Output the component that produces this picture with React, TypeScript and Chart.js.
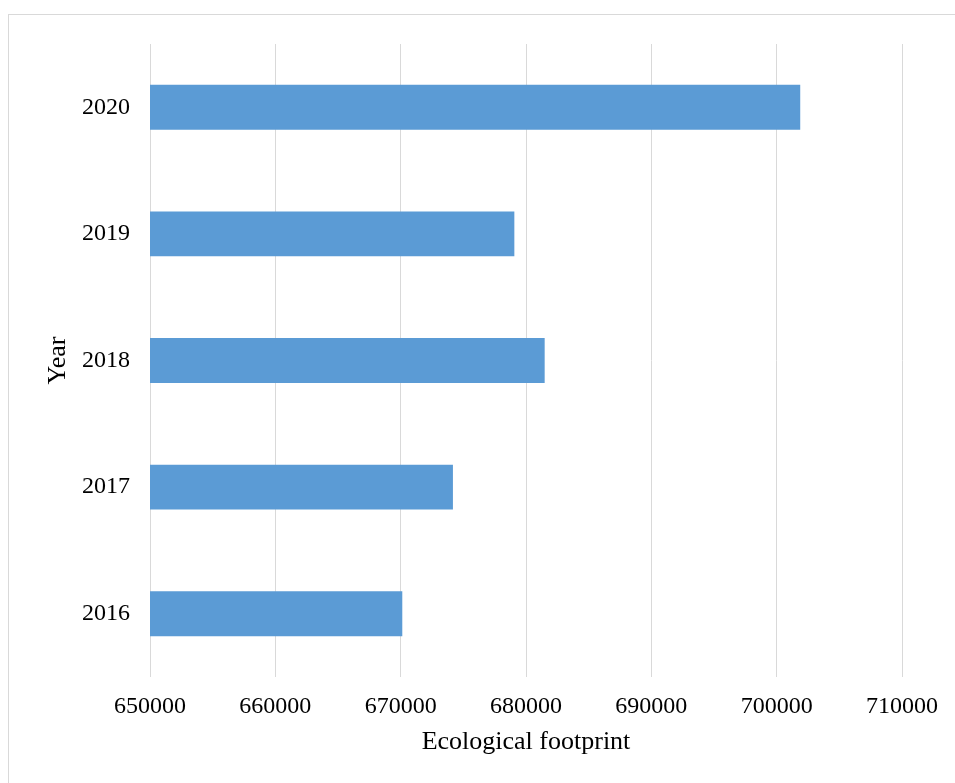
import React, { useEffect, useRef } from "react";
import { Chart, registerables } from "chart.js";

Chart.register(...registerables);

const years: string[] = ["2016", "2017", "2018", "2019", "2020"];
const footprint: number[] = [670130, 674170, 681490, 679070, 701880];
const xMin = 650000;
const xMax = 710000;
const xStep = 10000;

const FONT = "'Liberation Serif', 'Times New Roman', serif";

export default function App() {
  const ref = useRef<HTMLCanvasElement | null>(null);

  useEffect(() => {
    if (!ref.current) return;
    const chart = new Chart(ref.current, {
      type: "bar",
      data: {
        labels: years,
        datasets: [
          {
            label: "Ecological footprint",
            data: footprint,
            backgroundColor: "#5b9bd5",
            borderWidth: 0,
            barPercentage: 0.355,
            categoryPercentage: 1,
          },
        ],
      },
      options: {
        indexAxis: "y",
        responsive: false,
        animation: false,
        layout: { padding: { left: 0, top: 44, right: 53, bottom: 0 } },
        plugins: {
          legend: { display: false },
          tooltip: { enabled: false },
        },
        scales: {
          x: {
            min: xMin,
            max: xMax,
            grid: { color: "#d9d9d9", lineWidth: 1, drawTicks: false },
            border: { display: false },
            ticks: {
              stepSize: xStep,
              padding: 15,
              color: "#000",
              font: { family: FONT, size: 24 },
              callback: (v: any) => String(v),
              maxRotation: 0,
            },
            title: {
              display: true,
              text: "Ecological footprint",
              color: "#000",
              font: { family: FONT, size: 26 },
              padding: { top: 0, bottom: 25 },
            },
            afterFit: (s: any) => {
              s.height = 106;
            },
          },
          y: {
            reverse: true,
            grid: { display: false, drawTicks: false },
            border: { display: false },
            ticks: {
              padding: 20,
              color: "#000",
              font: { family: FONT, size: 24 },
            },
            title: {
              display: true,
              text: "Year",
              color: "#000",
              font: { family: FONT, size: 26 },
              padding: { top: 43, bottom: 0 },
            },
            afterFit: (s: any) => {
              s.width = 150;
            },
          },
        },
      },
    });
    return () => chart.destroy();
  }, []);

  return (
    <div
      style={{
        position: "fixed",
        left: 0,
        top: 0,
        width: 955,
        height: 783,
        overflow: "hidden",
        background: "#fff",
      }}
    >
      <div
        style={{
          position: "absolute",
          left: 8,
          top: 14,
          width: 1000,
          height: 1000,
          border: "1px solid #d9d9d9",
          boxSizing: "border-box",
        }}
      />
      <canvas
        ref={ref}
        width={955}
        height={783}
        style={{ position: "absolute", left: 0, top: 0, display: "block" }}
      />
    </div>
  );
}
